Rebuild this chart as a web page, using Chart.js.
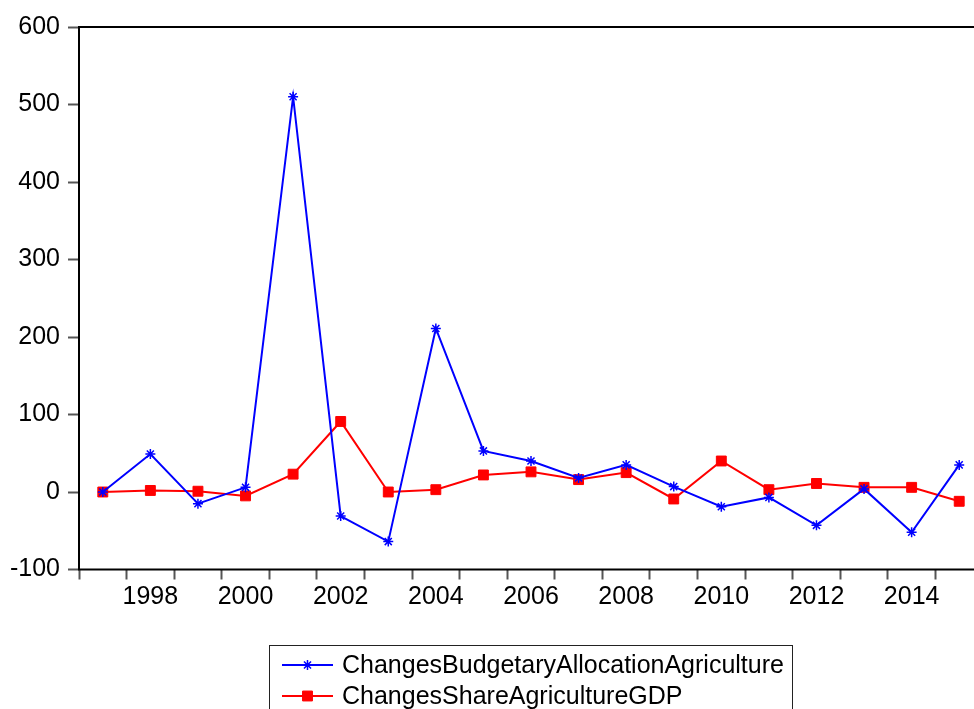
<!DOCTYPE html>
<html>
<head>
<meta charset="utf-8">
<script src="https://cdn.jsdelivr.net/npm/chart.js@4.4.0/dist/chart.umd.min.js"></script>
<style>
  html, body { margin: 0; padding: 0; background: #fff; overflow: hidden; }
  #wrap { width: 1000px; height: 709px; }
</style>
</head>
<body>
<div id="wrap"><canvas id="chart"></canvas></div>
<script>
// Years on the x axis
const years = [1997, 1998, 1999, 2000, 2001, 2002, 2003, 2004, 2005, 2006,
               2007, 2008, 2009, 2010, 2011, 2012, 2013, 2014, 2015];

// Series
const budgetaryAllocation = [0, 49, -15, 6, 510, -31, -64, 211, 53, 40,
                             18, 35, 7, -19, -7, -43, 4, -52, 35];
const shareAgricultureGDP = [0, 2, 1, -5, 23, 91, 0, 3, 22, 26,
                             16, 25, -9, 40, 3, 11, 6, 6, -12];

const yMin = -100, yMax = 600, yStep = 100;
const font = "'Liberation Sans', Arial, sans-serif";

// Frame round the plot area (EViews style)
const framePlugin = {
    id: 'frame',
    afterDatasetsDraw(chart) {
        const { ctx, chartArea: a } = chart;
        ctx.save();
        ctx.strokeStyle = '#000';
        ctx.lineWidth = 2;
        ctx.strokeRect(a.left, a.top, a.right - a.left, a.bottom - a.top);
        ctx.restore();
    }
};

// Boxed legend under the chart with line + marker samples
const boxLegendPlugin = {
    id: 'boxLegend',
    afterDraw(chart) {
        const ctx = chart.ctx;
        ctx.save();
        ctx.strokeStyle = '#222';
        ctx.lineWidth = 1;
        ctx.strokeRect(269.5, 645.5, 523, 100);
        ctx.font = '25px ' + font;
        ctx.textBaseline = 'middle';
        ctx.textAlign = 'left';
        chart.data.datasets.forEach((ds, i) => {
            const y = 665 + i * 31;
            ctx.strokeStyle = ds.borderColor;
            ctx.lineWidth = 2;
            ctx.beginPath();
            ctx.moveTo(282, y);
            ctx.lineTo(333, y);
            ctx.stroke();
            ctx.fillStyle = ds.pointBackgroundColor;
            ctx.strokeStyle = ds.borderColor;
            ctx.lineWidth = ds.pointBorderWidth;
            Chart.helpers.drawPoint(ctx, {
                pointStyle: ds.pointStyle,
                radius: ds.pointRadius,
                rotation: 0,
                borderWidth: ds.pointBorderWidth
            }, 307.5, y);
            ctx.fillStyle = '#000';
            ctx.fillText(ds.label, 342, y + 1);
        });
        ctx.restore();
    }
};

new Chart(document.getElementById('chart'), {
    type: 'line',
    data: {
        labels: years,
        datasets: [{
            label: 'ChangesBudgetaryAllocationAgriculture',
            data: budgetaryAllocation,
            borderColor: '#0000ff',
            backgroundColor: '#0000ff',
            pointBackgroundColor: '#0000ff',
            borderWidth: 2,
            pointStyle: 'star',
            pointRadius: 5,
            pointBorderWidth: 1.5,
            tension: 0,
            fill: false
        }, {
            label: 'ChangesShareAgricultureGDP',
            data: shareAgricultureGDP,
            borderColor: '#ff0000',
            backgroundColor: '#ff0000',
            pointBackgroundColor: '#ff0000',
            borderWidth: 2,
            pointStyle: 'rect',
            pointRadius: 7,
            pointBorderWidth: 1,
            tension: 0,
            fill: false
        }]
    },
    options: {
        responsive: true,
        maintainAspectRatio: false,
        animation: false,
        layout: { padding: { top: 27, right: 17, bottom: 99.5, left: 0 } },
        plugins: {
            legend: { display: false },
            tooltip: { enabled: false }
        },
        scales: {
            x: {
                type: 'category',
                offset: true,
                border: { display: false },
                grid: {
                    offset: true,
                    drawOnChartArea: false,
                    drawTicks: true,
                    tickLength: 10,
                    tickColor: '#555',
                    tickWidth: 2
                },
                ticks: {
                    autoSkip: false,
                    maxRotation: 0,
                    padding: 3,
                    color: '#000',
                    font: { family: font, size: 25 },
                    callback: function(val, i) {
                        const y = years[i];
                        return y % 2 === 0 ? String(y) : '';
                    }
                },
                afterFit(scale) { scale.height = 40; }
            },
            y: {
                min: yMin,
                max: yMax,
                border: { display: false },
                grid: {
                    drawOnChartArea: false,
                    drawTicks: true,
                    tickLength: 11,
                    tickColor: '#555',
                    tickWidth: 2
                },
                ticks: {
                    stepSize: yStep,
                    padding: 8,
                    color: '#000',
                    font: { family: font, size: 25 }
                },
                afterFit(scale) { scale.width = 79; }
            }
        }
    },
    plugins: [framePlugin, boxLegendPlugin]
});
</script>
</body>
</html>
